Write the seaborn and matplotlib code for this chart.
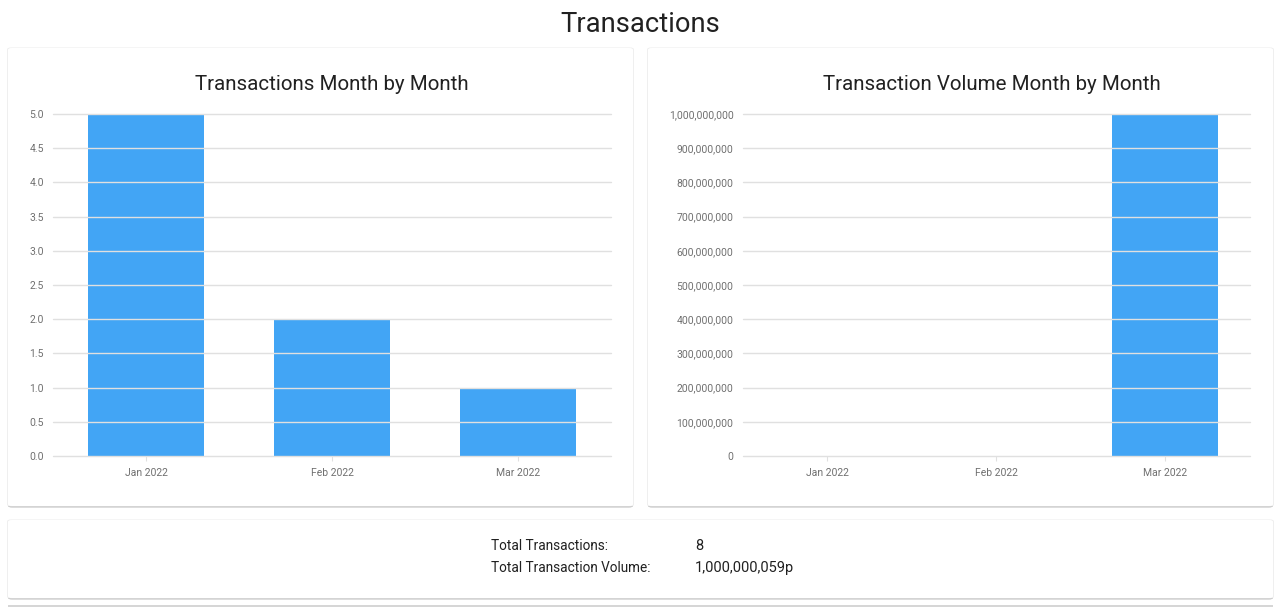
import matplotlib
matplotlib.use("Agg")
import matplotlib.pyplot as plt
import seaborn as sns
import pandas as pd
from matplotlib.patches import FancyBboxPatch
from matplotlib.ticker import FuncFormatter, MultipleLocator

# ---- data ----
months = ["Jan 2022", "Feb 2022", "Mar 2022"]
transactions = [5, 2, 1]
volume = [45, 14, 1000000000]
total_transactions = "8"
total_volume = "1,000,000,059p"

sns.set_theme(style="white")
plt.rcParams["font.family"] = ["Roboto", "DejaVu Sans"]

W, H = 1280, 609
fig = plt.figure(figsize=(W / 100, H / 100), dpi=100)
fig.patch.set_facecolor("white")

BAR = "#42A5F5"
GRID = "#e0e0e0"
TICK = "#707070"
TEXT = "#212121"


def rect(x0, y0, x1, y1):
    return [x0 / W, 1 - y1 / H, (x1 - x0) / W, (y1 - y0) / H]


def add_patch(x0, y0, w, h, color, z, style="round,pad=0,rounding_size=0.003"):
    p = FancyBboxPatch((x0 / W, 1 - (y0 + h) / H), w / W, h / H, boxstyle=style,
                       transform=fig.transFigure, facecolor=color,
                       edgecolor="none", zorder=z)
    fig.patches.append(p)


def card(x0, y0, x1, y1):
    add_patch(x0, y0 + 1.5, x1 - x0, y1 - y0, "#bdbdbd", -3)
    add_patch(x0 - 0.8, y0 - 0.5, x1 - x0 + 1.6, y1 - y0 + 1, "#ececec", -2.5)
    add_patch(x0, y0, x1 - x0, y1 - y0, "white", -2)


card(8, 48, 633, 506)
card(648, 48, 1273, 506)
card(8, 520, 1273, 598)
# top edge of next card
add_patch(8, 605, 1265, 4, "#d6d6d6", -3, "square,pad=0")
add_patch(8, 606.5, 1265, 4, "white", -2, "square,pad=0")

fig.text(0.5, 1 - 24.5 / H, "Transactions", ha="center", va="center",
         fontsize=19.7, color=TEXT)


def style_axis(ax, title, cx_px):
    ax.set_zorder(1)
    ax.set_facecolor("none")
    for s in ax.spines.values():
        s.set_visible(False)
    ax.set_xlim(-0.5, 2.5)
    ax.set_xlabel("")
    ax.set_ylabel("")
    ax.set_axisbelow(False)
    ax.yaxis.grid(True, color=GRID, linewidth=1)
    ax.xaxis.grid(False)
    for gl in ax.get_ygridlines():
        gl.set_clip_on(False)
    ax.tick_params(axis="y", length=0, pad=6.5, labelsize=7.5, labelcolor=TICK)
    ax.tick_params(axis="x", length=3.5, width=0.8, color=GRID, pad=5.5,
                   labelsize=7.5, labelcolor=TICK, direction="out", bottom=True)
    fig.text(cx_px / W, 1 - 84 / H, title, ha="center", va="center",
             fontsize=14.8, color=TEXT)


# left chart
ax1 = fig.add_axes(rect(53, 114, 611, 456))
df1 = pd.DataFrame({"month": months, "count": transactions})
sns.barplot(data=df1, x="month", y="count", color=BAR, saturation=1, width=0.62,
            linewidth=0, ax=ax1)
ax1.set_ylim(0, 5)
ax1.yaxis.set_major_locator(MultipleLocator(0.5))
ax1.yaxis.set_major_formatter(FuncFormatter(lambda v, p: f"{v:.1f}"))
style_axis(ax1, "Transactions Month by Month", 332)

# right chart
ax2 = fig.add_axes(rect(742.5, 114, 1249.5, 456))
df2 = pd.DataFrame({"month": months, "volume": volume})
sns.barplot(data=df2, x="month", y="volume", color=BAR, saturation=1, width=0.63,
            linewidth=0, ax=ax2)
ax2.set_ylim(0, 1e9)
ax2.yaxis.set_major_locator(MultipleLocator(1e8))
ax2.yaxis.set_major_formatter(FuncFormatter(lambda v, p: f"{int(round(v)):,}"))
style_axis(ax2, "Transaction Volume Month by Month", 992)

# summary card
fig.text(491 / W, 1 - 546 / H, "Total Transactions:", ha="left", va="center",
         fontsize=9.8, color=TEXT)
fig.text(491 / W, 1 - 568 / H, "Total Transaction Volume:", ha="left", va="center",
         fontsize=9.8, color=TEXT)
fig.text(695 / W, 1 - 546 / H, total_transactions, ha="left", va="center",
         fontsize=10.5, color=TEXT)
fig.text(695 / W, 1 - 568 / H, total_volume, ha="left", va="center",
         fontsize=10.5, color=TEXT)

fig.savefig("out.png", dpi=100, facecolor="white")
